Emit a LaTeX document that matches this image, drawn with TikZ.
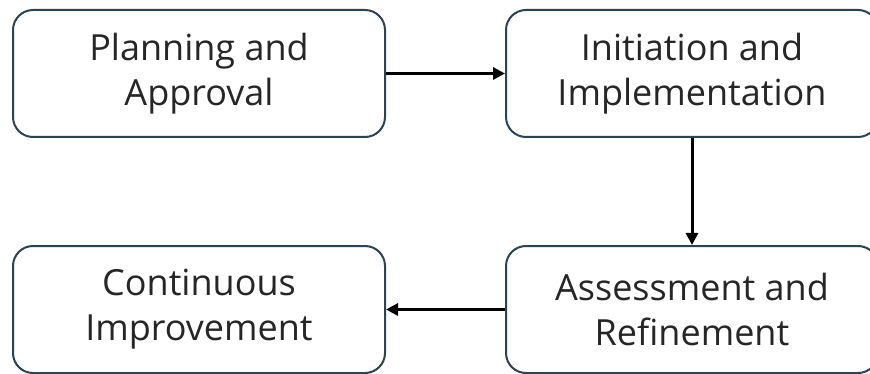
\documentclass[tikz,border=0pt]{standalone}
\usepackage{fontspec}
\setmainfont{Open Sans}
\usepackage{xcolor}
\usetikzlibrary{arrows.meta, positioning}
\definecolor{boxline}{RGB}{42,68,84}

\begin{document}
\begin{tikzpicture}[
    x=1pt, y=-1pt,
    phase/.style={rectangle, rounded corners=20pt, draw=boxline, line width=2pt, fill=white,
        minimum width=372pt, minimum height=127pt, align=center,
        font=\fontsize{36}{45}\selectfont, text=black!85},
    flow/.style={-{Triangle[length=12pt, width=12pt]}, line width=3pt, black},
]
\useasboundingbox (0,0) rectangle (870,374);
\clip (0,0) rectangle (870,374);

\node[phase] (plan) at (199,73.5) {Planning and\\Approval};
\node[phase] (init) at (692,73.5) {Initiation and\\Implementation};
\node[phase] (assess) at (692,309.5) {Assessment and\\Refinement};
\node[phase] (improve) at (199,309.5) {Continuous\\Improvement};

\draw[flow] (plan) -- (init);
\draw[flow] (init) -- (assess);
\draw[flow] (assess) -- (improve);

\end{tikzpicture}
\end{document}
